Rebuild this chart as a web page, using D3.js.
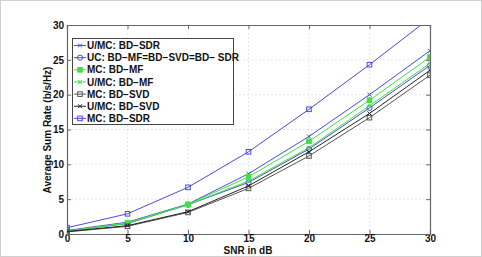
<!DOCTYPE html>
<html><head><meta charset="utf-8">
<script src="https://cdn.jsdelivr.net/npm/d3@7"></script>
<style>body{margin:0;background:#fff}svg{display:block}text{font-family:"Liberation Sans",Arial,sans-serif}</style>
</head><body><svg id="c" width="482" height="257"></svg>
<script>
const snr = [0, 5, 10, 15, 20, 25, 30];
const xTicks = [0, 5, 10, 15, 20, 25, 30];
const yTicks = [0, 5, 10, 15, 20, 25, 30];
const umcSdr = [0.5, 1.7, 4.3, 8.65, 14.0, 20.0, 26.3];
const ucAll = [0.45, 1.5, 4.2, 7.4, 12.2, 18.1, 24.2];
const mcMf = [0.4, 1.6, 4.25, 8.2, 13.3, 19.2, 25.4];
const umcMf = [0.42, 1.55, 4.2, 7.6, 12.4, 18.4, 24.5];
const mcSvd = [0.3, 1.1, 3.1, 6.55, 11.2, 16.7, 22.8];
const umcSvd = [0.35, 1.2, 3.2, 6.9, 11.8, 17.3, 23.5];
const mcSdr = [0.9, 2.9, 6.7, 11.8, 17.9, 24.3, 31.0];
const names = ["U/MC: BD\u2212SDR","UC: BD\u2212MF=BD\u2212SVD=BD\u2212 SDR","MC: BD\u2212MF","U/MC: BD\u2212MF","MC: BD\u2212SVD","U/MC: BD\u2212SVD","MC: BD\u2212SDR"];
const colors = ["#4a4adf","#4a4adf","#3ee23e","#3ee23e","#555555","#222222","#4a4adf"];
const markers = ["x","circle","square","x","square","x","square"];
const fills = ["none","none","#3ee23e","none","none","none","none"];
const series = [umcSdr, ucAll, mcMf, umcMf, mcSvd, umcSvd, mcSdr];

const svg = d3.select("#c");
svg.append("rect").attr("x",0.5).attr("y",0.5).attr("width",481).attr("height",256).attr("fill","#fff").attr("stroke","#d0d0d0");
const L=67,R=430,T=25,B=234;
const x = d3.scaleLinear().domain([0,30]).range([L,R]);
const y = d3.scaleLinear().domain([0,30]).range([B,T]);
svg.append("defs").append("clipPath").attr("id","cp").append("rect").attr("x",L).attr("y",T).attr("width",R-L).attr("height",B-T);
const g = svg.append("g");
g.selectAll(".gx").data(xTicks.slice(1,-1)).join("line").attr("x1",d=>x(d)).attr("x2",d=>x(d)).attr("y1",T).attr("y2",B).attr("stroke","#d8d8d8").attr("stroke-dasharray","1.5,2.5").attr("stroke-width",0.8);
g.selectAll(".gy").data(yTicks.slice(1,-1)).join("line").attr("y1",d=>y(d)).attr("y2",d=>y(d)).attr("x1",L).attr("x2",R).attr("stroke","#d8d8d8").attr("stroke-dasharray","1.5,2.5").attr("stroke-width",0.8);
g.append("g").attr("transform",`translate(0,${B})`).call(d3.axisBottom(x).tickValues(xTicks).tickSize(-4).tickPadding(1));
g.append("g").attr("transform",`translate(${L},0)`).call(d3.axisLeft(y).tickValues(yTicks).tickSize(-4).tickPadding(3));
g.append("g").attr("transform",`translate(0,${T})`).call(d3.axisTop(x).tickValues(xTicks).tickSize(-4).tickFormat(""));
g.append("g").attr("transform",`translate(${R},0)`).call(d3.axisRight(y).tickValues(yTicks).tickSize(-4).tickFormat(""));
svg.selectAll(".domain").attr("stroke","#666").attr("stroke-width",1.2);
svg.selectAll(".tick line").attr("stroke","#666");
svg.selectAll(".tick text").attr("font-size",10).attr("font-weight","bold").attr("fill","#111").attr("font-family","Liberation Sans, Arial, sans-serif");
const line = d3.line().x((d,i)=>x(snr[i])).y(d=>y(d));
function marker(sel, type, col, fill){
  if(type==="square") sel.append("rect").attr("x",-2.3).attr("y",-2.3).attr("width",4.6).attr("height",4.6).attr("fill",fill==="none"?"none":fill).attr("stroke",col).attr("stroke-width",1);
  else if(type==="circle") sel.append("circle").attr("r",2.6).attr("fill","none").attr("stroke",col).attr("stroke-width",1);
  else sel.append("path").attr("d","M-2,-2L2,2M-2,2L2,-2").attr("stroke",col).attr("stroke-width",1);
}
const pg = svg.append("g").attr("clip-path","url(#cp)");
series.forEach((s,k)=>{
  pg.append("path").datum(s).attr("d",line).attr("fill","none").attr("stroke",colors[k]).attr("stroke-width",1);
  s.forEach((v,i)=>{ const m=pg.append("g").attr("transform",`translate(${x(snr[i])},${y(v)})`); marker(m,markers[k],colors[k],fills[k]); });
});
const lg = svg.append("g");
lg.append("rect").attr("x",72.5).attr("y",38.5).attr("width",161).attr("height",86).attr("fill","#fff").attr("stroke","#444").attr("stroke-width",1);
names.forEach((n,k)=>{
  const yy = 45.5 + k*12.15;
  lg.append("line").attr("x1",74).attr("x2",86).attr("y1",yy).attr("y2",yy).attr("stroke",colors[k]);
  const m=lg.append("g").attr("transform",`translate(80,${yy})`); marker(m,markers[k],colors[k],fills[k]);
  lg.append("text").attr("x",87).attr("y",yy+3.6).attr("font-size",10).attr("font-weight","bold").attr("fill","#111").text(n);
});
svg.append("text").attr("x",248).attr("y",254).attr("text-anchor","middle").attr("font-size",10).attr("font-weight","bold").attr("fill","#111").text("SNR in dB");
svg.append("text").attr("transform","translate(51,130) rotate(-90)").attr("text-anchor","middle").attr("font-size",10).attr("font-weight","bold").attr("fill","#111").text("Average Sum Rate (b/s/Hz)");
</script></body></html>
